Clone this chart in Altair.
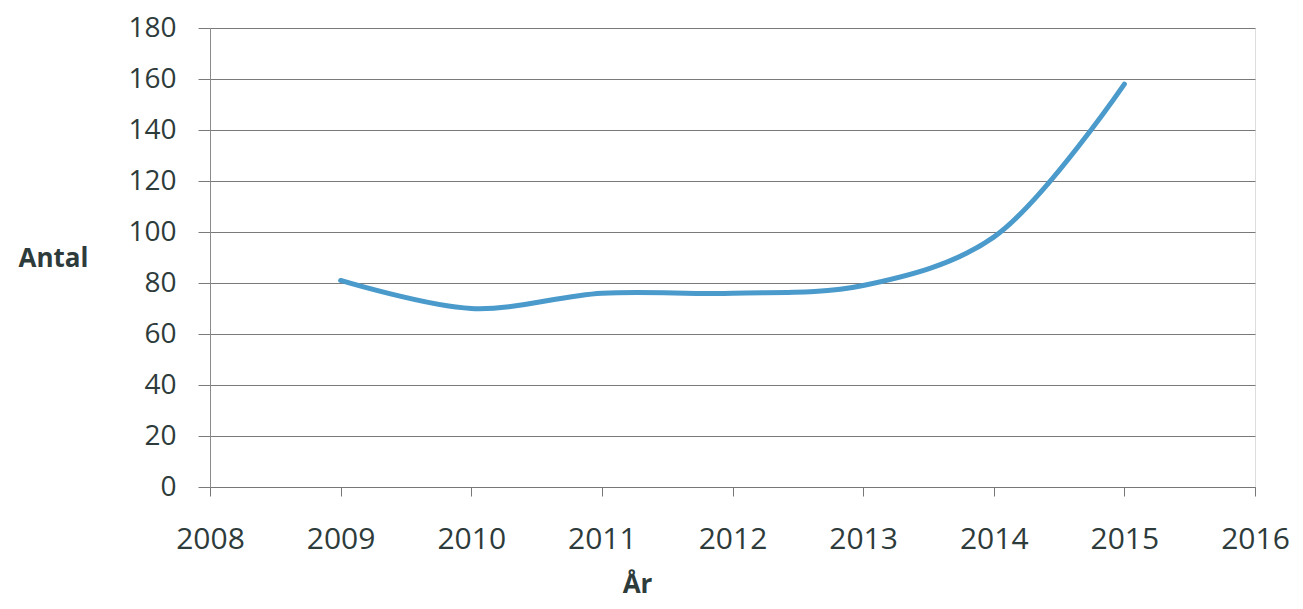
import altair as alt
import pandas as pd

years = [2009, 2010, 2011, 2012, 2013, 2014, 2015]
antal = [81, 70, 76, 76, 79, 98, 158]
x_ticks = [2008, 2009, 2010, 2011, 2012, 2013, 2014, 2015, 2016]
y_ticks = [0, 20, 40, 60, 80, 100, 120, 140, 160, 180]

df = pd.DataFrame({"År": years, "Antal": antal})

FONT = "Open Sans"

chart = (
    alt.Chart(df)
    .mark_line(color="#4a9acb", strokeWidth=5, interpolate="catmull-rom", strokeCap="round")
    .encode(
        x=alt.X(
            "År:Q",
            scale=alt.Scale(domain=[2008, 2016], nice=False, zero=False),
            axis=alt.Axis(
                values=x_ticks,
                format="d",
                grid=False,
                domain=True,
                domainColor="#777777",
                ticks=True,
                tickColor="#777777",
                tickSize=9,
                labelFontSize=30,
                labelFont=FONT,
                labelColor="#2e3b3b",
                labelPadding=28,
                labelFlush=False,
                labelOverlap=False,
                labelBound=False,
                title="År",
                titleFont=FONT,
                titleFontSize=26,
                titleFontWeight="bold",
                titleColor="#2e3b3b",
                titleAngle=0,
                titleX=427,
                titleY=97,
                titleAlign="center",
                titleBaseline="middle",
            ),
        ),
        y=alt.Y(
            "Antal:Q",
            scale=alt.Scale(domain=[0, 180], nice=False),
            axis=alt.Axis(
                values=y_ticks,
                grid=True,
                gridColor="#7a7a7a",
                gridWidth=1.2,
                domain=True,
                domainColor="#8a8a8a",
                ticks=True,
                tickColor="#7a7a7a",
                tickSize=12,
                labelFontSize=28,
                labelFont=FONT,
                labelColor="#2e3b3b",
                labelPadding=22,
                labelFlush=False,
                labelOverlap=False,
                title="Antal",
                titleFont=FONT,
                titleFontSize=26,
                titleFontWeight="bold",
                titleColor="#2e3b3b",
                titleAngle=0,
                titleX=-192,
                titleY=230,
                titleAlign="left",
                titleBaseline="middle",
            ),
        ),
    )
    .properties(
        width=1045,
        height=459,
        autosize=alt.AutoSizeParams(type="none"),
        padding={"left": 202, "top": 20, "right": 40, "bottom": 116},
    )
    .configure_view(stroke=None)
    .configure(background="white")
)

chart.save("out.html", embed_options={"renderer": "svg", "actions": False})
